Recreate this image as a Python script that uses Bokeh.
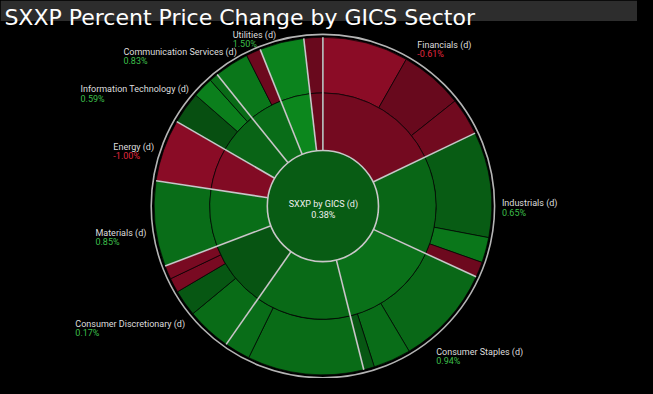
import math
from bokeh.plotting import figure
from bokeh.models import BoxAnnotation, ColumnDataSource
from bokeh.core.properties import value
from bokeh.embed import file_html
from bokeh.resources import INLINE

# ---------------- data ----------------
title_text = "SXXP Percent Price Change by GICS Sector"
center_name = "SXXP by GICS (d)"
center_change = 0.38

sectors = ["Financials", "Industrials", "Consumer Staples", "Health Care",
           "Consumer Discretionary", "Materials", "Energy", "Information Technology",
           "Communication Services", "Utilities", "Real Estate"]
sector_change = [-0.61, 0.65, 0.94, 0.75, 0.17, 0.85, -1.00, 0.59, 0.83, 1.50, -0.31]

industry_sector = ["Financials", "Financials", "Financials",
                   "Industrials", "Industrials", "Industrials",
                   "Consumer Staples", "Consumer Staples", "Consumer Staples",
                   "Health Care", "Health Care",
                   "Consumer Discretionary", "Consumer Discretionary",
                   "Consumer Discretionary", "Consumer Discretionary",
                   "Materials", "Energy",
                   "Information Technology", "Information Technology", "Information Technology",
                   "Communication Services", "Communication Services",
                   "Utilities", "Real Estate"]
industry_names = ["Banks", "Insurance", "Diversified Financials",
                  "Capital Goods", "Transportation", "Commercial & Professional Services",
                  "Food, Beverage & Tobacco", "Household & Personal Products", "Food & Staples Retailing",
                  "Pharmaceuticals, Biotechnology & Life Sciences", "Health Care Equipment & Services",
                  "Consumer Durables & Apparel", "Automobiles & Components",
                  "Consumer Services", "Retailing",
                  "Materials", "Energy",
                  "Software & Services", "Semiconductors", "Technology Hardware & Equipment",
                  "Telecommunication Services", "Media & Entertainment",
                  "Utilities", "Real Estate"]
industry_weight = [8.22, 6.08, 3.58,
                   10.11, 2.42, 1.47,
                   9.58, 3.61, 1.03,
                   11.14, 2.47,
                   4.28, 2.53, 1.39, 1.31,
                   8.17, 5.94,
                   3.08, 1.97, 0.83,
                   3.33, 1.39,
                   4.25, 1.81]
industry_change = [-1.26, -0.26, -0.54,
                   0.37, 1.10, -0.40,
                   0.71, 0.84, 0.26,
                   0.79, 0.84,
                   0.79, 0.26, -0.77, -0.77,
                   0.84, -1.25,
                   0.05, 1.30, 0.79,
                   1.10, -0.40,
                   1.42, -0.31]

# ---------------- layout / style ----------------
UNITS_W = 653.0
UNITS_H = 387.5
CX = 330.5
CY_REF = 210.75
CY = UNITS_H - CY_REF
R0, R1, R2, R_RING = 57.0, 116.0, 173.0, 176.0
# label placement (left edge x, centre y of the name line), in reference pixels
label_pos = {"Financials": (427.3, 42.0), "Industrials": (514.0, 204.5),
             "Consumer Staples": (446.7, 356.5), "Consumer Discretionary": (76.7, 328.0),
             "Materials": (97.3, 235.0), "Energy": (115.7, 146.5),
             "Information Technology": (82.0, 87.5), "Communication Services": (126.0, 49.5),
             "Utilities": (238.0, 31.5)}
LABEL_FONT = "Roboto"
LABEL_SIZE = "9px"
TITLE_FONT = "DejaVu Sans"


def change_color(v):
    if v >= 0:
        g = min(78 + 38 * v, 145)
        return "#%02x%02x%02x" % (int(0.09 * g), int(g), int(0.22 * g))
    r = min(95 + 35 * (-v), 150)
    return "#%02x%02x%02x" % (int(r), int(0.09 * r), int(0.28 * r))


def ry(y_ref):
    return UNITS_H - y_ref


def ang(f):
    return math.pi / 2 - 2 * math.pi * f


total = sum(industry_weight)

# industry wedges
ind_start, ind_end = [], []
cum = 0.0
for w in industry_weight:
    ind_start.append(cum / total)
    cum += w
    ind_end.append(cum / total)

outer_src = ColumnDataSource(dict(
    name=industry_names,
    start=[ang(fe) for fe in ind_end],
    end=[ang(fs) for fs in ind_start],
    color=[change_color(v) for v in industry_change],
))

# sector wedges from industries
sec_start, sec_end = [], []
for s in sectors:
    idx = [i for i, t in enumerate(industry_sector) if t == s]
    sec_start.append(ind_start[idx[0]])
    sec_end.append(ind_end[idx[-1]])

mid_src = ColumnDataSource(dict(
    name=sectors,
    start=[ang(fe) for fe in sec_end],
    end=[ang(fs) for fs in sec_start],
    color=[change_color(v) for v in sector_change],
))

p = figure(width=637, height=378, x_range=(0, UNITS_W), y_range=(0, UNITS_H),
           x_axis_type=None, y_axis_type=None, toolbar_location=None,
           output_backend="svg", min_border=0,
           background_fill_color="black", border_fill_color="black",
           outline_line_color=None)
p.grid.visible = False

# title bar
p.add_layout(BoxAnnotation(bottom=ry(21), top=UNITS_H, fill_color="#2d2d2d",
                           fill_alpha=1.0, line_color=None, level="underlay"))
p.text(x=[4], y=[ry(17.4)], text=[title_text], text_font=value(TITLE_FONT),
       text_font_size="22px", text_color="white", text_baseline="alphabetic")

# outer grey ring
p.circle(x=[CX], y=[CY], radius=R_RING, fill_color=None, line_color="#b4b4b4",
         line_width=1.6)

p.annular_wedge(x=CX, y=CY, inner_radius=R1, outer_radius=R2, start_angle="start",
                end_angle="end", fill_color="color", line_color="#050505",
                line_width=0.7, source=outer_src)
p.annular_wedge(x=CX, y=CY, inner_radius=R0, outer_radius=R1, start_angle="start",
                end_angle="end", fill_color="color", line_color="#050505",
                line_width=0.7, source=mid_src)

# sector separators
sx0, sy0, sx1, sy1 = [], [], [], []
for fs in sec_start:
    a = 2 * math.pi * fs
    sx0.append(CX + R0 * math.sin(a)); sy0.append(CY + R0 * math.cos(a))
    sx1.append(CX + R2 * math.sin(a)); sy1.append(CY + R2 * math.cos(a))
p.segment(x0=sx0, y0=sy0, x1=sx1, y1=sy1, line_color="#c8c8c8", line_width=1.6)

# centre
p.circle(x=[CX], y=[CY], radius=R0, fill_color=change_color(center_change),
         line_color="#c8c8c8", line_width=1.6)
p.text(x=[CX + 0.5, CX + 0.5], y=[ry(209.0), ry(219.8)],
       text=[center_name, "%.2f%%" % center_change],
       text_font=value(LABEL_FONT), text_font_size=LABEL_SIZE, text_color="#f0f0f0",
       text_align="center", text_baseline="alphabetic")

# sector labels
name_x, name_y, name_t, val_y, val_t, val_c = [], [], [], [], [], []
for s, v in zip(sectors, sector_change):
    if s not in label_pos:
        continue
    lx, ly = label_pos[s]
    name_x.append(lx)
    name_y.append(ry(ly + 3.4))
    name_t.append(s + " (d)")
    val_y.append(ry(ly + 13.0))
    val_t.append("%.2f%%" % v)
    val_c.append("#3cbf4a" if v >= 0 else "#e0283f")

p.text(x=name_x, y=name_y, text=name_t, text_font=value(LABEL_FONT),
       text_font_size=LABEL_SIZE, text_color="#dedede", text_align="left",
       text_baseline="alphabetic")
p.text(x=name_x, y=val_y, text=val_t, text_font=value(LABEL_FONT),
       text_font_size=LABEL_SIZE, text_color=val_c, text_align="left",
       text_baseline="alphabetic")

tmpl = "{% block postamble %}<style>html, body { background-color: #000000; }</style>{% endblock %}"
try:
    html = file_html(p, INLINE, template=tmpl)
except Exception:
    html = file_html(p, INLINE)
open("out.html", "w").write(html)
